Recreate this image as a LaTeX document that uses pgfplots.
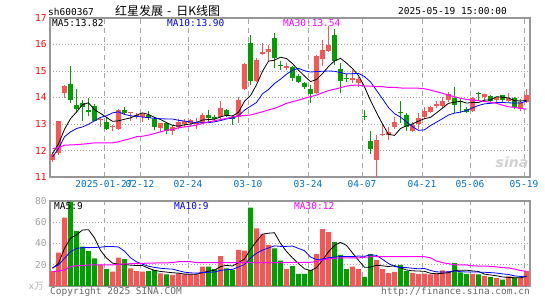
\documentclass[border=0pt]{standalone}
\usepackage{pgfplots}
\pgfplotsset{compat=1.18}
\usepackage{pgfplotstable}
\usepackage{fontspec}
\setmainfont{DejaVu Sans Mono}
\newfontfamily\cjk{Noto Sans CJK SC}
\newfontfamily\dsans{DejaVu Sans}
\definecolor{cred}{RGB}{250,85,85}
\definecolor{cgreen}{RGB}{0,158,0}
\definecolor{dblue}{RGB}{0,112,192}
\definecolor{mag}{RGB}{255,0,255}
\definecolor{gridc}{RGB}{165,165,165}
\definecolor{framec}{RGB}{150,150,150}
\newcommand\fs{\fontsize{9.5bp}{11bp}\selectfont}

% red (up) candles: index open high low close volume
\pgfplotstableread{
x o h l c v
0 11.63 11.95 11.57 11.88 14.1
1 11.90 13.10 11.82 13.10 31.4
2 14.16 14.47 13.97 14.45 64.3
8 13.15 13.25 12.89 13.19 19.8
10 12.89 12.96 12.74 12.93 13.5
11 12.81 13.55 12.77 13.53 26.7
13 13.40 13.45 13.12 13.45 16.6
14 13.25 13.40 13.17 13.34 14.1
15 13.25 13.42 13.08 13.37 13.5
18 12.86 13.02 12.70 13.02 11.9
20 12.74 12.92 12.58 12.89 10.4
21 12.89 13.17 12.83 13.08 11.9
22 12.99 13.17 12.90 13.12 11.0
23 13.05 13.17 12.89 13.15 11.0
24 13.00 13.21 12.83 13.05 11.0
25 13.02 13.42 13.00 13.34 18.2
28 13.27 13.88 13.17 13.59 28.2
31 13.27 14.03 13.05 13.90 33.9
32 14.31 15.29 14.28 15.27 33.3
34 14.64 15.48 14.60 15.42 54.3
35 15.63 16.05 15.61 15.70 48.6
36 15.70 15.99 15.36 15.82 38.6
39 15.13 15.29 15.04 15.17 16.0
44 14.16 15.61 14.13 15.57 30.1
45 15.44 16.18 15.17 15.80 53.6
46 15.77 16.70 15.73 15.99 50.8
50 14.66 15.04 14.54 14.75 18.2
51 14.54 14.79 14.41 14.69 16.0
54 11.66 12.58 11.00 12.41 24.5
55 12.58 12.96 12.54 12.60 16.0
56 12.58 12.89 12.41 12.70 12.2
57 12.89 13.25 12.83 13.06 13.2
60 12.74 13.08 12.70 12.96 12.2
61 12.99 13.40 12.83 13.24 11.3
62 13.25 13.63 13.17 13.50 11.6
63 13.46 13.68 13.40 13.65 11.0
64 13.69 13.88 13.59 13.75 11.6
65 13.68 14.03 13.59 13.88 14.7
66 13.90 14.19 13.84 14.12 13.8
70 13.50 14.03 13.46 13.97 11.5
72 14.03 14.12 13.84 14.12 9.5
74 13.90 14.03 13.84 14.03 7.5
76 13.88 14.16 13.84 13.97 9.0
78 13.55 13.93 13.50 13.84 8.0
79 13.84 14.31 13.80 14.09 14.0
}\rdata

% green (down) candles
\pgfplotstableread{
x o h l c v
3 14.51 15.19 13.80 13.90 79.5
4 13.71 14.31 13.40 13.56 51.8
5 13.78 13.90 13.12 13.65 37.0
6 13.53 13.98 13.30 13.46 32.9
7 13.68 13.75 13.10 13.12 26.0
9 13.06 13.25 12.77 12.81 16.0
12 13.53 13.63 13.34 13.42 25.4
16 13.34 13.50 13.15 13.21 14.1
17 13.17 13.25 12.79 12.89 15.1
19 13.02 13.07 12.64 12.74 11.0
26 13.34 13.53 13.08 13.21 18.2
27 13.25 13.34 13.12 13.17 16.0
29 13.53 13.56 13.25 13.34 16.6
30 13.25 13.34 12.96 13.18 15.1
33 16.05 16.37 14.47 14.64 73.7
37 16.24 16.43 15.10 15.48 35.4
38 15.23 15.36 15.04 15.19 23.8
40 15.14 15.19 14.64 14.72 18.8
41 14.83 14.89 14.54 14.60 11.3
42 14.56 14.60 14.31 14.38 11.3
43 14.31 14.47 13.78 14.13 15.1
47 16.37 16.60 15.23 15.39 41.4
48 15.07 15.29 14.16 14.64 29.2
49 14.72 14.89 14.60 14.69 16.0
52 13.30 13.53 13.15 13.25 8.5
53 12.35 12.74 11.88 12.07 30.1
58 13.44 13.87 13.02 13.40 19.8
59 13.34 13.40 12.74 12.89 14.1
67 13.99 14.38 13.40 13.71 21.6
68 13.84 13.97 13.40 13.82 12.9
69 13.56 13.65 13.40 13.44 11.3
71 14.16 14.22 13.88 14.13 11.0
73 14.06 14.09 13.84 13.88 8.5
75 14.08 14.09 13.84 13.90 6.0
77 13.97 14.03 13.55 13.63 8.0
}\gdata

% moving averages: price MA5 MA10 MA30, volume MA5 MA10 MA30
\pgfplotstableread{
x m5 m10 m30 v5 v10 v30
0 11.88 11.76 12.07 16.6 17.3 13.5
1 12.25 12.07 12.11 21.3 19.8 14.1
2 12.80 12.52 12.20 35.4 26.0 15.1
3 13.20 12.70 12.21 45.0 32.3 18.2
4 13.45 12.83 12.22 48.1 35.4 19.1
5 13.73 12.89 12.24 52.7 36.1 19.1
6 13.80 12.99 12.26 53.0 36.1 19.8
7 13.54 13.12 12.29 45.3 36.3 19.8
8 13.40 13.25 12.29 33.5 36.5 19.8
9 13.25 13.31 12.29 26.3 37.2 19.8
10 13.10 13.42 12.29 21.6 37.2 19.8
11 13.12 13.46 12.33 20.4 36.7 20.4
12 13.18 13.36 12.39 20.3 32.8 20.7
13 13.23 13.31 12.45 19.6 26.6 21.0
14 13.33 13.29 12.52 19.3 22.8 21.3
15 13.42 13.26 12.54 19.3 20.5 21.3
16 13.36 13.24 12.58 16.7 18.6 21.6
17 13.25 13.21 12.64 14.7 17.5 21.6
18 13.17 13.20 12.70 13.7 16.7 21.8
19 13.05 13.19 12.77 13.1 16.2 21.8
20 12.95 13.19 12.79 12.5 15.9 22.0
21 12.92 13.14 12.86 12.1 14.4 22.9
22 12.97 13.11 12.89 11.2 13.0 22.9
23 13.00 13.08 12.92 11.1 12.4 22.9
24 13.06 13.05 12.96 11.1 12.1 22.0
25 13.15 13.05 13.02 12.6 12.6 22.0
26 13.17 13.05 13.08 13.9 13.0 22.0
27 13.18 13.08 13.12 14.9 13.1 22.0
28 13.27 13.13 13.17 18.3 14.7 22.0
29 13.33 13.19 13.21 19.4 15.3 22.0
30 13.30 13.22 13.27 18.8 15.7 22.0
31 13.44 13.31 13.30 22.0 17.9 22.0
32 13.86 13.52 13.32 25.4 20.2 22.0
33 14.07 13.67 13.34 34.5 26.4 22.0
34 14.48 13.81 13.40 42.1 30.8 22.0
35 14.99 14.14 13.46 48.8 33.8 22.0
36 15.37 14.30 13.53 49.7 35.8 22.0
37 15.41 14.53 13.59 50.1 37.8 22.0
38 15.52 14.69 13.68 40.1 37.3 22.0
39 15.47 14.88 13.78 32.5 37.3 22.0
40 15.28 15.03 13.84 26.5 37.6 22.3
41 15.03 15.10 13.90 21.1 35.4 22.3
42 14.81 15.01 13.97 16.2 33.2 22.3
43 14.60 14.96 14.03 14.5 27.3 22.3
44 14.68 14.98 14.09 17.3 24.9 23.0
45 14.90 14.99 14.18 24.3 25.4 24.5
46 15.17 15.00 14.26 32.2 26.6 25.5
47 15.38 14.99 14.31 38.2 27.2 26.0
48 15.48 14.94 14.37 41.0 27.8 26.5
49 15.30 14.89 14.43 38.2 27.8 26.5
50 15.09 14.90 14.46 31.1 27.7 26.5
51 14.83 14.91 14.47 24.2 28.2 26.5
52 14.40 14.79 14.43 17.6 27.9 27.0
53 13.89 14.59 14.43 17.8 29.4 27.6
54 13.43 14.27 14.41 19.5 28.8 27.6
55 13.00 13.95 14.41 19.0 25.1 27.6
56 12.61 13.62 14.38 18.3 21.2 27.6
57 12.57 13.39 14.38 19.2 18.4 27.6
58 12.83 13.26 14.36 17.1 17.5 27.6
59 12.93 13.08 14.35 15.1 17.3 27.6
60 13.00 12.90 14.35 14.3 16.7 27.6
61 13.11 12.76 14.35 14.1 16.2 27.6
62 13.20 12.78 14.33 13.8 16.5 27.6
63 13.25 12.94 14.28 12.0 14.6 26.5
64 13.42 13.07 14.22 11.5 13.3 23.5
65 13.60 13.20 14.16 12.0 13.2 22.0
66 13.78 13.34 14.09 12.5 13.3 21.0
67 13.82 13.41 14.03 14.5 14.2 20.0
68 13.86 13.45 13.97 14.9 13.5 19.8
69 13.79 13.51 13.93 14.9 13.2 19.8
70 13.81 13.61 13.90 14.2 13.1 19.0
71 13.81 13.70 13.88 13.7 13.1 18.8
72 13.90 13.76 13.85 11.2 12.9 18.8
73 13.91 13.78 13.82 10.4 12.6 18.5
74 14.03 13.81 13.78 9.6 12.2 18.0
75 14.01 13.81 13.71 8.5 11.4 17.3
76 13.98 13.80 13.65 8.1 10.9 17.0
77 13.88 13.79 13.63 7.8 9.5 16.0
78 13.87 13.79 13.59 7.7 9.0 14.5
79 13.89 13.86 13.56 9.0 9.3 13.8
}\madata

\pgfplotsset{
  kaxis/.style={
    scale only axis, width=480bp, xmin=-0.4167, xmax=79.5833,
    xtick={8.5833,14.5833,22.5833,32.5833,42.5833,51.5833,61.5833,69.5833,78.5833},
    grid=major, major tick length=0pt,
    x grid style={gridc, line width=0.9bp, dash pattern=on 5bp off 4bp},
    y grid style={gridc, line width=0.8bp, dash pattern=on 1bp off 2bp},
    axis line style={framec, line width=1.2bp},
    tick label style={font=\fs},
    /pgf/number format/assume math mode=true,
  },
  wick/.style={draw=none, mark=none, error bars/.cd, y dir=plus, y explicit,
    error mark=none, error bar style={draw=#1, line width=1bp}},
  body/.style={draw=none, mark=none, error bars/.cd, y dir=plus, y explicit,
    error mark=none, error bar style={draw=#1, line width=5bp}},
}

\begin{document}
\begin{tikzpicture}
\useasboundingbox (0,0) rectangle (545bp,300bp);
\begin{axis}[kaxis, at={(50bp,123bp)}, anchor=south west, height=159bp,
  ymin=11, ymax=17, ytick={11,12,...,17},
  yticklabel style={red},
  xticklabels={2025-01-27,02-12,02-24,03-10,03-24,04-07,04-21,05-06,05-19},
  xticklabel style={dblue}]
\addplot[wick=cred] table[x=x, y=l, y error plus expr={\thisrow{h}-\thisrow{l}}] {\rdata};
\addplot[wick=cgreen] table[x=x, y=l, y error plus expr={\thisrow{h}-\thisrow{l}}] {\gdata};
\addplot[body=cred] table[x=x, y=o, y error plus expr={max(\thisrow{c}-\thisrow{o},0.035)}] {\rdata};
\addplot[body=cgreen] table[x=x, y=c, y error plus expr={max(\thisrow{o}-\thisrow{c},0.035)}] {\gdata};
\addplot[black, line width=0.8bp, mark=none] table[x=x, y=m5] {\madata};
\addplot[blue, line width=0.8bp, mark=none] table[x=x, y=m10] {\madata};
\addplot[mag, line width=1bp, mark=none] table[x=x, y=m30] {\madata};
\end{axis}
\begin{axis}[kaxis, at={(50bp,14bp)}, anchor=south west, height=85bp,
  ymin=0, ymax=80, ytick={20,40,60,80},
  yticklabel style={gray!75}, xticklabels={}]
\addplot[ybar, bar width=5bp, bar shift=0pt, fill=cred, draw=none] table[x=x, y=v] {\rdata};
\addplot[ybar, bar width=5bp, bar shift=0pt, fill=cgreen, draw=none] table[x=x, y=v] {\gdata};
\addplot[black, line width=0.8bp, mark=none] table[x=x, y=v5] {\madata};
\addplot[blue, line width=0.8bp, mark=none] table[x=x, y=v10] {\madata};
\addplot[mag, line width=1bp, mark=none] table[x=x, y=v30] {\madata};
\end{axis}
\begin{scope}[every node/.style={inner sep=0pt, font=\fs}]
\node[anchor=west] at (48bp,288.5bp) {sh600367};
\node[anchor=west, font=\cjk\fontsize{12bp}{13bp}\selectfont] at (115bp,289.5bp) {红星发展\hspace{4bp}-\hspace{5bp}日K线图};
\node[anchor=east] at (507bp,288.5bp) {2025-05-19 15:00:00};
\node[anchor=west] at (52bp,276.5bp) {MA5:13.82};
\node[anchor=west, blue] at (167bp,276.5bp) {MA10:13.90};
\node[anchor=west, mag] at (283bp,276.5bp) {MA30:13.54};
\node[anchor=west] at (54bp,94.3bp) {MA5:9};
\node[anchor=west, blue] at (174bp,94.3bp) {MA10:9};
\node[anchor=west, mag] at (294bp,94.3bp) {MA30:12};
\node[anchor=east, gray!60] at (44bp,14bp) {x\cjk 万};
\node[anchor=west, gray!80!black] at (50bp,8.3bp) {Copyright 2025 SINA.COM};
\node[anchor=east, gray!80!black] at (530bp,8bp) {http://finance.sina.com.cn};
\node[gray!35, font=\dsans\bfseries\itshape\fontsize{14bp}{14bp}\selectfont] at (512bp,138bp) {sina};
\end{scope}
\end{tikzpicture}
\end{document}
